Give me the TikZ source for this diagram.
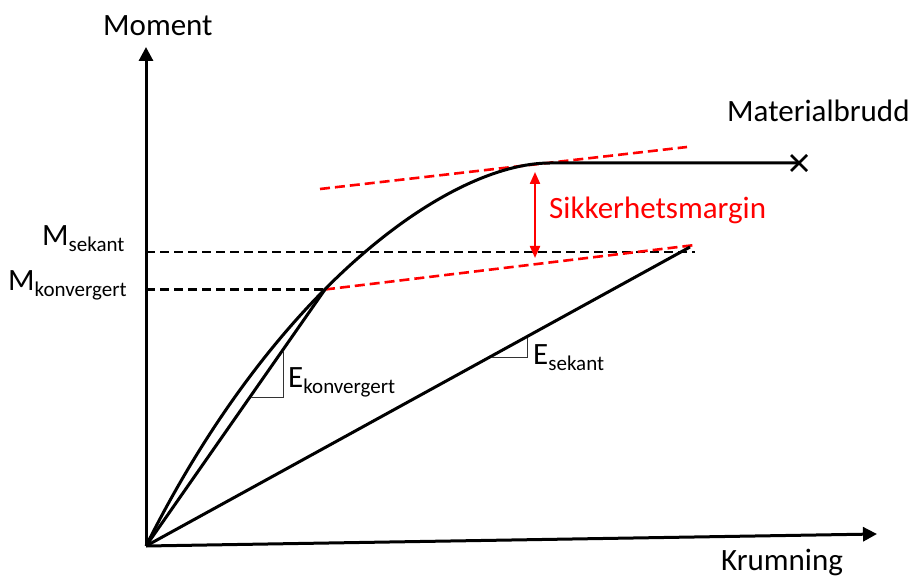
\documentclass[tikz,border=0pt]{standalone}
\usepackage{fontspec}
\setmainfont{Carlito}
\usetikzlibrary{arrows.meta,calc}
\definecolor{myred}{RGB}{255,0,0}
\newcommand{\subtxt}[1]{\raisebox{-6pt}{\fontsize{21}{21}\selectfont #1}}
\begin{document}
\begin{tikzpicture}[x=1pt,y=-1pt,
  axis/.style={line width=3pt,-{Triangle[width=14pt,length=14pt]}},
  curve/.style={line width=3pt,line join=round},
  blackdash/.style={line width=2.5pt,dash pattern=on 9pt off 5pt},
  reddash/.style={line width=2.6pt,dash pattern=on 10pt off 5pt,myred},
  slopetri/.style={line width=0.9pt,black!80},
  lab/.style={inner sep=0pt,anchor=base west,font=\fontsize{31}{31}\selectfont},
  redarrow/.style={line width=2.2pt,myred,{Triangle[width=10pt,length=12pt]}-{Triangle[width=10pt,length=12pt]}}
]
\useasboundingbox (0,0) rectangle (919,577);
% key coordinates
\coordinate (O) at (146,546);
\coordinate (Ytop) at (146,47);
\coordinate (Xend) at (877,534);
\coordinate (K) at (325,289.5);
\coordinate (P) at (550,163);
\coordinate (S) at (690,247);
\coordinate (F) at (799,163);
\coordinate (MsL) at (146,252);
\coordinate (MsR) at (695,252);
\coordinate (MkL) at (146,289.5);
\coordinate (RtA) at (320,189);
\coordinate (RtB) at (687,147);
\coordinate (RlB) at (695,245);
\coordinate (ArT) at (535,172);
\coordinate (ArB) at (535,258);
\coordinate (TkA) at (251,397);
\coordinate (TkB) at (283,397);
\coordinate (TkC) at (283,351);
\coordinate (TsA) at (492,357);
\coordinate (TsB) at (527,357);
\coordinate (TsC) at (527,338);
% dashed lines
\draw[blackdash] (MsL) -- (MsR);
\draw[blackdash] (MkL) -- (K);
\draw[reddash] (RtA) -- (RtB);
\draw[reddash] (K) -- (RlB);
% axes
\draw[axis] (O) -- (Ytop);
\draw[axis] (O) -- (Xend);
% curves
\draw[curve] (O) .. controls (276,286) and (450,163) .. (P) -- (F);
\draw[curve] (O) -- (K);
\draw[curve] (O) -- (S);
% failure mark
\draw[line width=2.8pt] ($(F)+(-8,-8)$) -- ($(F)+(8,8)$);
\draw[line width=2.8pt] ($(F)+(-8,8)$) -- ($(F)+(8,-8)$);
% slope triangles
\draw[slopetri] (TkA) -- (TkB) -- (TkC);
\draw[slopetri] (TsA) -- (TsB) -- (TsC);
% safety margin arrow
\draw[redarrow] (ArT) -- (ArB);
% labels
\node[lab] (moment) at (103,36) {Moment};
\node[lab] (krumning) at (721,570) {Krumning};
\node[lab] (brudd) at (727,122) {Materialbrudd};
\node[lab,text=myred] (margin) at (549,219) {Sikkerhetsmargin};
\node[lab] (msek) at (42,246) {M\subtxt{sekant}};
\node[lab] (mkon) at (8,291) {M\subtxt{konvergert}};
\node[lab] (ekon) at (288,388) {E\subtxt{konvergert}};
\node[lab] (esek) at (533,365) {E\subtxt{sekant}};
\end{tikzpicture}
\end{document}
